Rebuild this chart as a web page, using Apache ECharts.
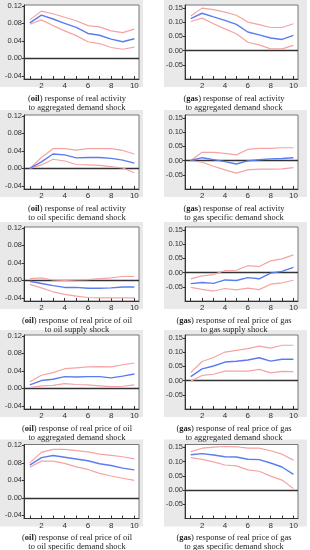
<!DOCTYPE html>
<html><head><meta charset="utf-8">
<script src="https://cdn.jsdelivr.net/npm/echarts@6/dist/echarts.min.js"></script>
<style>html,body{margin:0;padding:0;background:#fff}#c{width:310px;height:550px}</style>
</head><body><div id="c"></div>
<script>
const horizons = [1,2,3,4,5,6,7,8,9,10];
const xLabelTicks = [2,4,6,8,10];
const leftTicks = [-0.04,0,0.04,0.08,0.12];
const rightTicks = [-0.05,0,0.05,0.10,0.15];

// Panel 1: (oil) real activity / aggregated demand
const p1Mid = [0.081,0.099,0.090,0.080,0.071,0.057,0.053,0.044,0.038,0.045];
const p1Up  = [0.088,0.108,0.102,0.094,0.086,0.075,0.072,0.063,0.059,0.067];
const p1Lo  = [0.078,0.088,0.075,0.063,0.052,0.038,0.034,0.025,0.021,0.026];
// Panel 2: (gas) real activity / aggregated demand
const p2Mid = [0.112,0.131,0.118,0.106,0.092,0.065,0.055,0.044,0.039,0.053];
const p2Up  = [0.121,0.149,0.144,0.135,0.124,0.100,0.091,0.081,0.081,0.094];
const p2Lo  = [0.102,0.114,0.094,0.076,0.059,0.029,0.020,0.006,0.006,0.018];
// Panel 3: (oil) real activity / oil specific demand
const p3Mid = [0.000,0.015,0.033,0.031,0.024,0.025,0.025,0.023,0.019,0.012];
const p3Up  = [0.000,0.025,0.045,0.045,0.042,0.045,0.045,0.045,0.041,0.033];
const p3Lo  = [0.000,0.008,0.021,0.017,0.009,0.008,0.007,0.004,0.001,-0.010];
// Panel 4: (gas) real activity / gas specific demand
const p4Mid = [0.000,0.010,0.003,-0.004,-0.012,-0.001,0.003,0.006,0.007,0.010];
const p4Up  = [0.000,0.029,0.029,0.025,0.020,0.039,0.043,0.043,0.045,0.045];
const p4Lo  = [0.000,-0.006,-0.020,-0.033,-0.044,-0.033,-0.030,-0.030,-0.029,-0.025];
// Panel 5: (oil) real price of oil / oil supply
const p5Mid = [-0.002,-0.007,-0.012,-0.016,-0.016,-0.018,-0.018,-0.017,-0.015,-0.015];
const p5Up  = [0.004,0.006,0.001,0.000,0.001,0.002,0.004,0.006,0.009,0.009];
const p5Lo  = [-0.009,-0.017,-0.026,-0.032,-0.036,-0.039,-0.040,-0.040,-0.040,-0.040];
// Panel 6: (gas) real price of gas / gas supply
const p6Mid = [-0.039,-0.035,-0.038,-0.026,-0.028,-0.018,-0.022,-0.002,0.004,0.018];
const p6Up  = [-0.022,-0.012,-0.007,0.007,0.008,0.024,0.021,0.041,0.048,0.062];
const p6Lo  = [-0.052,-0.059,-0.065,-0.056,-0.061,-0.055,-0.060,-0.041,-0.036,-0.027];
// Panel 7: (oil) real price of oil / aggregated demand
const p7Mid = [0.008,0.018,0.021,0.027,0.026,0.027,0.027,0.024,0.028,0.033];
const p7Up  = [0.015,0.030,0.036,0.045,0.047,0.049,0.050,0.049,0.054,0.058];
const p7Lo  = [0.002,0.006,0.007,0.011,0.009,0.008,0.006,0.004,0.005,0.008];
// Panel 8: (gas) real price of gas / aggregated demand
const p8Mid = [0.014,0.041,0.051,0.065,0.068,0.072,0.080,0.068,0.075,0.075];
const p8Up  = [0.028,0.067,0.081,0.100,0.106,0.112,0.121,0.114,0.124,0.124];
const p8Lo  = [-0.002,0.018,0.022,0.033,0.033,0.033,0.039,0.027,0.032,0.031];
// Panel 9: (oil) real price of oil / oil specific demand
const p9Mid = [0.075,0.092,0.097,0.093,0.089,0.085,0.078,0.074,0.068,0.064];
const p9Up  = [0.080,0.104,0.111,0.111,0.108,0.105,0.100,0.097,0.094,0.089];
const p9Lo  = [0.070,0.084,0.084,0.079,0.071,0.065,0.056,0.050,0.045,0.040];
// Panel 10: (gas) real price of gas / gas specific demand
const p10Mid = [0.124,0.128,0.123,0.117,0.116,0.108,0.107,0.095,0.081,0.055];
const p10Up  = [0.135,0.147,0.151,0.153,0.152,0.147,0.147,0.138,0.126,0.105];
const p10Lo  = [0.114,0.108,0.099,0.088,0.085,0.071,0.066,0.049,0.035,0.005];

const captions = [
  ['oil','response of real activity','to aggregated demand shock'],
  ['gas','response of real activity','to aggregated demand shock'],
  ['oil','response of real activity','to oil specific demand shock'],
  ['gas','response of real activity','to gas specific demand shock'],
  ['oil','response of real price of oil','to oil supply shock'],
  ['gas','response of real price of gas','to gas supply shock'],
  ['oil','response of real price of oil','to aggregated demand shock'],
  ['gas','response of real price of gas','to aggregated demand shock'],
  ['oil','response of real price of oil','to oil specific demand shock'],
  ['gas','response of real price of gas','to gas specific demand shock']
];

const panels = [
  [p1Mid,p1Up,p1Lo],[p2Mid,p2Up,p2Lo],[p3Mid,p3Up,p3Lo],[p4Mid,p4Up,p4Lo],
  [p5Mid,p5Up,p5Lo],[p6Mid,p6Up,p6Lo],[p7Mid,p7Up,p7Lo],[p8Mid,p8Up,p8Lo],
  [p9Mid,p9Up,p9Lo],[p10Mid,p10Up,p10Lo]
];

const rowTops = [5, 115, 227, 335, 444.5];
const BLUE = '#5b7cf0', RED = '#f6a3a3';

const grids=[], xAxes=[], yAxes=[], series=[], graphics=[];
panels.forEach((p, i) => {
  const row = Math.floor(i/2), right = i%2===1;
  const top = rowTops[row];
  grids.push({left: right?185:24, width: right?113:115, top: top, height: 74,
    show:true, backgroundColor:'#fff', borderColor:'#777', borderWidth:1});
  xAxes.push({type:'value', gridIndex:i, min:0.5, max:10.4,
    axisLine:{show:true, onZero:false, lineStyle:{color:'#333', width:1}},
    axisTick:{show:true, inside:true, length:3, customValues:horizons, lineStyle:{color:'#333'}},
    axisLabel:{customValues:xLabelTicks, fontSize:8, fontFamily:'Liberation Sans', color:'#333', margin:3},
    splitLine:{show:false}});
  const ticks = right ? rightTicks : leftTicks;
  yAxes.push({type:'value', gridIndex:i, min: right?-0.10:-0.047, max: right?0.16:0.122,
    axisLine:{show:true, lineStyle:{color:'#333', width:1}},
    axisTick:{show:true, inside:false, length:2, customValues:ticks, lineStyle:{color:'#333'}},
    axisLabel:{customValues:ticks, fontSize:7.5, fontFamily:'Liberation Sans', color:'#333', margin:2,
      formatter:v=>v.toFixed(2)},
    splitLine:{show:false}});
  const mk = (arr) => horizons.map((h,k)=>[h, arr[k]]);
  series.push({type:'line', xAxisIndex:i, yAxisIndex:i, data:mk(p[1]), showSymbol:false, silent:true,
    lineStyle:{color:RED, width:1.2}, z:3});
  series.push({type:'line', xAxisIndex:i, yAxisIndex:i, data:mk(p[2]), showSymbol:false, silent:true,
    lineStyle:{color:RED, width:1.2}, z:3});
  series.push({type:'line', xAxisIndex:i, yAxisIndex:i, data:mk(p[0]), showSymbol:false, silent:true,
    lineStyle:{color:BLUE, width:1.4}, z:4,
    markLine:{silent:true, symbol:'none', label:{show:false}, lineStyle:{color:'#333', width:1.3, type:'solid'},
      data:[{yAxis:0}], z:2}});
  // grey panel background
  graphics.push({type:'rect', z:-10, shape:{x: right?164:0, y: top-5, width: right?143:143, height: 87},
    style:{fill:'#e9e9e9'}});
  const c = captions[i];
  graphics.push({type:'text', z:5, x: right?234:77, y: top+89,
    style:{text:'({b|'+c[0]+'}) '+c[1]+'\n'+c[2], align:'center', verticalAlign:'top',
      fontFamily:'Liberation Serif', fontSize:8.5, lineHeight:9, fill:'#222',
      rich:{b:{fontWeight:'bold', fontFamily:'Liberation Serif', fontSize:8.5, lineHeight:9, fill:'#222'}}}});
});

const chart = echarts.init(document.getElementById('c'), null, {renderer:'canvas'});
chart.setOption({animation:false, backgroundColor:'#fff', grid:grids, xAxis:xAxes, yAxis:yAxes, series:series, graphic:graphics});
</script></body></html>
